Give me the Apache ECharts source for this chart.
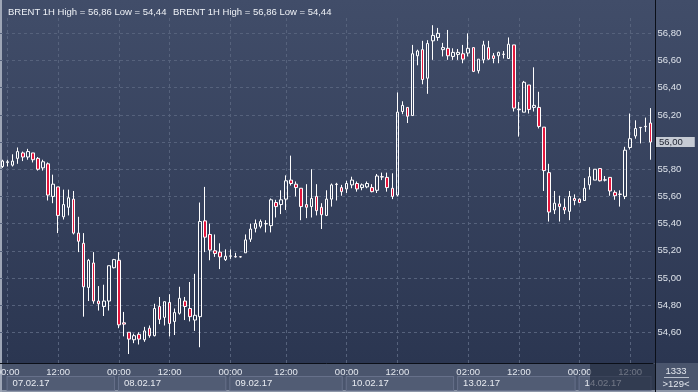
<!DOCTYPE html>
<html><head><meta charset="utf-8">
<script src="https://cdn.jsdelivr.net/npm/echarts@6/dist/echarts.min.js"></script>
<style>
html,body{margin:0;padding:0;background:#2b3651;}
#c{width:698px;height:392px;background:linear-gradient(to bottom,#414d69 0px,#2b3651 363px,#4a556d 363px,#4a556d 392px);box-shadow:inset 2px 0 0 #9ea6b6, inset 0 -2px 0 #8d96a8;}
</style></head><body><div id="c"></div>
<script>
// ---- data (BRENT 1H) ----
const opens = [55.82,55.85,55.83,55.88,55.92,55.89,55.92,55.88,55.81,55.84,
55.60,55.67,55.45,55.52,55.58,55.33,55.255,54.93,55.11,54.83,
54.79,54.83,55.075,55.13,54.67,54.60,54.545,54.585,54.545,54.63,
54.575,54.79,54.71,54.82,54.68,54.74,54.83,54.775,54.69,54.715,
55.42,55.32,55.20,55.19,55.135,55.16,55.157,55.156,55.185,55.285,
55.365,55.38,55.40,55.385,55.555,55.54,55.58,55.72,55.69,55.66,
55.54,55.525,55.60,55.52,55.46,55.58,55.69,55.665,55.655,55.685,
55.695,55.665,55.67,55.665,55.645,55.745,55.74,55.66,55.61,56.225,
56.255,56.195,56.635,56.68,56.47,56.745,56.77,56.68,56.69,56.63,
56.645,56.65,56.655,56.695,56.525,56.605,56.695,56.635,56.635,56.647,
56.615,56.715,56.242,56.22,56.42,56.255,56.255,56.11,55.775,55.50,
55.545,55.52,55.49,55.585,55.58,55.57,55.685,55.72,55.805,55.722,
55.74,55.63,55.617,55.60,55.96,56.045,56.106,56.113,56.14];
const closes = [55.86,55.855,55.86,55.93,55.89,55.93,55.87,55.80,55.855,55.61,
55.69,55.46,55.54,55.59,55.33,55.27,54.935,55.13,54.83,54.81,
54.83,55.09,55.135,54.655,54.66,54.55,54.575,54.55,54.61,54.575,
54.775,54.695,54.825,54.665,54.745,54.85,54.79,54.715,54.725,55.415,
55.30,55.205,55.18,55.155,55.16,55.162,55.155,55.155,55.28,55.36,
55.40,55.415,55.398,55.575,55.525,55.575,55.715,55.695,55.665,55.525,
55.52,55.585,55.495,55.465,55.58,55.685,55.688,55.635,55.695,55.72,
55.655,55.685,55.695,55.635,55.75,55.743,55.665,55.60,56.22,56.27,
56.19,56.65,56.67,56.46,56.725,56.785,56.80,56.695,56.635,56.66,
56.66,56.61,56.69,56.52,56.61,56.715,56.61,56.615,56.66,56.645,
56.72,56.25,56.238,56.44,56.24,56.27,56.115,55.79,55.485,55.55,
55.525,55.50,55.60,55.57,55.555,55.66,55.745,55.80,55.715,55.72,
55.64,55.605,55.615,55.94,56.025,56.10,56.108,56.116,56.00];
const lows = [55.81,55.82,55.82,55.84,55.86,55.87,55.85,55.79,55.79,55.57,
55.55,55.33,55.43,55.46,55.32,55.19,54.715,54.83,54.81,54.76,
54.72,54.76,55.07,54.63,54.57,54.44,54.52,54.51,54.53,54.56,
54.57,54.66,54.65,54.57,54.58,54.73,54.69,54.68,54.61,54.49,
55.19,55.13,55.155,55.065,55.125,55.14,55.15,55.15,55.185,55.265,
55.335,55.365,55.335,55.335,55.445,55.47,55.50,55.68,55.60,55.425,
55.44,55.445,55.46,55.36,55.455,55.525,55.57,55.605,55.625,55.66,
55.635,55.645,55.66,55.63,55.625,55.72,55.635,55.58,55.60,56.205,
56.14,56.195,56.565,56.425,56.355,56.605,56.745,56.63,56.605,56.605,
56.605,56.58,56.63,56.515,56.505,56.58,56.605,56.58,56.58,56.615,
56.615,56.225,56.04,56.22,56.21,56.225,56.10,55.64,55.415,55.47,
55.415,55.47,55.425,55.535,55.55,55.57,55.65,55.72,55.71,55.71,
55.605,55.575,55.525,55.58,55.945,56.025,55.99,56.075,55.87];
const highs = [55.87,55.87,55.91,55.96,55.93,55.95,55.92,55.89,55.87,55.85,
55.76,55.67,55.65,55.65,55.64,55.45,55.33,55.14,55.19,54.94,
54.95,55.09,55.14,55.19,54.75,54.60,54.59,54.60,54.64,54.65,
54.81,54.86,54.825,54.88,54.775,54.935,54.86,54.97,55.03,55.555,
55.67,55.40,55.32,55.255,55.21,55.21,55.185,55.16,55.32,55.40,
55.43,55.43,55.425,55.585,55.575,55.645,55.755,55.90,55.71,55.66,
55.69,55.80,55.69,55.55,55.645,55.695,55.70,55.685,55.715,55.745,
55.71,55.695,55.71,55.69,55.765,55.775,55.775,55.77,56.365,56.30,
56.255,56.715,56.68,56.745,56.75,56.86,56.84,56.73,56.825,56.69,
56.685,56.715,56.80,56.695,56.61,56.745,56.745,56.655,56.665,56.67,
56.77,56.715,56.295,56.45,56.42,56.55,56.37,56.11,55.84,55.64,
55.605,55.585,55.64,55.615,55.585,55.735,55.815,55.80,55.805,55.75,
55.74,55.645,55.645,55.965,56.21,56.16,56.11,56.18,56.25];

const timeTickIdx  = [1,11,23,33,45,56,68,78,92,102,114,124];
const timeTickText = ['00:00','12:00','00:00','12:00','00:00','12:00','00:00','12:00','02:00','12:00','00:00','12:00'];
const dateIdx  = [1,23,45,68,90,114];
const dateText = ['07.02.17','08.02.17','09.02.17','10.02.17','13.02.17','14.02.17'];
const yTicks = [54.6,54.8,55.0,55.2,55.4,55.6,55.8,56.0,56.2,56.4,56.6,56.8];
const yMin = 54.374, yMax = 56.913;
const headerText = 'BRENT 1H High = 56,86 Low = 54,44';
const cornerTop = '1333', cornerBottom = '>129<';

// ---- build ----
const n = opens.length;
const categories = opens.map((_, i) => String(i));
const ohlc = opens.map((o, i) => [o, closes[i], lows[i], highs[i]]);
const fmt = v => v.toFixed(2).replace('.', ',');
const FONT = "'Liberation Sans', Arial, sans-serif";

const W = 698, H = 392;
const gridLeft = 0, gridRight = 45, gridTop = 18, gridBottom = 29;
const band = (W - gridLeft - gridRight) / n;

const rich = {};
dateIdx.forEach((d, i) => {
  const next = i + 1 < dateIdx.length ? dateIdx[i + 1] : n;
  rich['b' + i] = {
    width: (next - d) * band - 10, height: 13, lineHeight: 13,
    padding: [0, 0, 0, 5],
    backgroundColor: '#515c74', borderColor: '#66708a', borderWidth: 1,
    color: '#e8ebf1', fontSize: 9.5, fontFamily: FONT
  };
});

const gridLines = [];
yTicks.forEach(v => gridLines.push({ yAxis: v }));
timeTickIdx.forEach(i => gridLines.push({ xAxis: String(i) }));

const chart = echarts.init(document.getElementById('c'), null, { renderer: 'canvas' });
chart.setOption({
  backgroundColor: 'transparent',
  animation: false,
  title: [
    { text: headerText, left: 3, top: 2, textStyle: { color: '#eef1f6', fontSize: 9.5, fontWeight: 'normal', fontFamily: FONT } },
    { text: headerText, left: 168, top: 2, textStyle: { color: '#eef1f6', fontSize: 9.5, fontWeight: 'normal', fontFamily: FONT } }
  ],
  grid: { left: gridLeft, right: gridRight, top: gridTop, bottom: gridBottom, containLabel: false, outerBoundsMode: 'none' },
  xAxis: [
    {
      type: 'category', data: categories, boundaryGap: true,
      axisLine: { show: true, lineStyle: { color: '#0b0f18', width: 1 } },
      axisTick: { show: false },
      splitLine: { show: false },
      axisLabel: {
        interval: (i) => timeTickIdx.includes(i),
        showMinLabel: true, showMaxLabel: true,
        formatter: (v, i) => { const k = timeTickIdx.indexOf(Number(v)); return k >= 0 ? timeTickText[k] : ''; },
        color: '#e4e8ef', fontSize: 9.5, fontFamily: FONT, margin: 4
      }
    },
    {
      type: 'category', data: categories, boundaryGap: true, position: 'bottom', offset: 14,
      axisLine: { show: false }, axisTick: { show: false }, splitLine: { show: false },
      axisLabel: {
        interval: (i) => dateIdx.includes(i),
        showMinLabel: true, showMaxLabel: true,
        formatter: (v) => { const k = dateIdx.indexOf(Number(v)); return k >= 0 ? '{b' + k + '|' + dateText[k] + '}' : ''; },
        align: 'left', margin: 0, rich: rich
      }
    }
  ],
  yAxis: {
    type: 'value', position: 'right', min: yMin, max: yMax, offset: 2.5,
    axisLine: { show: false }, axisTick: { show: false }, splitLine: { show: false },
    axisLabel: {
      customValues: yTicks,
      showMinLabel: true, showMaxLabel: true,
      formatter: v => (v < 54.5 || v > 56.85) ? '' : fmt(v),
      color: '#dde2ea', fontSize: 9.5, fontFamily: FONT, margin: 2
    }
  },
  series: [
    {
      type: 'line', data: [], z: 1, silent: true,
      markLine: {
        z: 1, silent: true, symbol: ['none', 'none'], animation: false,
        label: { show: false },
        lineStyle: { color: '#56627c', width: 1, type: [3, 3] },
        data: gridLines
      }
    },
    {
      type: 'candlestick', data: ohlc, z: 3, barWidth: 3,
      itemStyle: {
        color: 'rgba(0,0,0,0)', color0: '#e3163d',
        borderColor: '#ffffff', borderColor0: '#ffffff', borderWidth: 1
      },
      markLine: {
        z: 6, silent: true, symbol: ['none', 'none'], animation: false,
        lineStyle: { color: 'rgba(0,0,0,0)', width: 0 },
        label: {
          show: true, position: 'end', distance: 3,
          formatter: p => fmt(p.value),
          backgroundColor: '#c6cbd4', color: '#1c2130',
          fontSize: 9.5, fontFamily: FONT, padding: [0, 12, 0, 3], lineHeight: 10
        },
        data: [{ yAxis: closes[n - 1] }]
      }
    }
  ],
  graphic: [
    { type: 'line', z: 50, shape: { x1: 655.5, y1: 0, x2: 655.5, y2: H }, style: { stroke: '#0b0f18', lineWidth: 1 } },
    { type: 'rect', z: 50, shape: { x: 590, y: 364, width: 65, height: 26 }, style: { fill: 'rgba(30,38,58,0.6)' } },
    { type: 'text', z: 51, x: 676, y: 371, style: { text: cornerTop, fill: '#e4e8ef', fontSize: 9.5, fontFamily: FONT, align: 'center', verticalAlign: 'middle' } },
    { type: 'line', z: 51, shape: { x1: 664, y1: 377.5, x2: 689, y2: 377.5 }, style: { stroke: '#b9c0cc', lineWidth: 1 } },
    { type: 'text', z: 51, x: 676, y: 384, style: { text: cornerBottom, fill: '#e4e8ef', fontSize: 9.5, fontFamily: FONT, align: 'center', verticalAlign: 'middle' } }
  ]
});
</script>
</body></html>
